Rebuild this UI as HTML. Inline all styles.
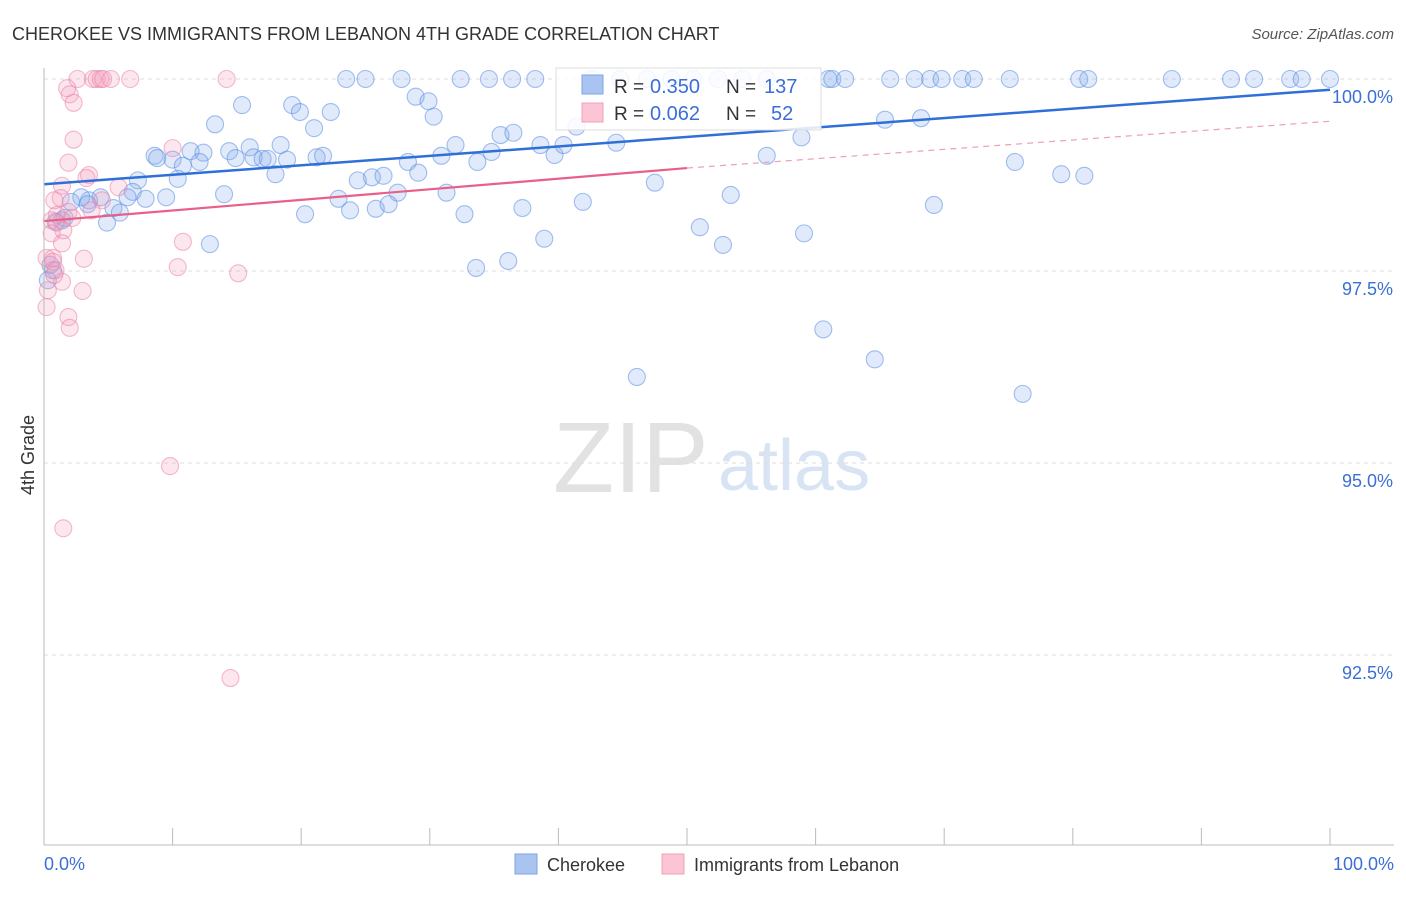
<!DOCTYPE html>
<html><head><meta charset="utf-8"><style>
body{margin:0;background:#fff;font-family:"Liberation Sans",sans-serif;}
svg text{font-family:"Liberation Sans",sans-serif;}
</style></head><body>
<svg id="chart" width="1406" height="892">
<text x="12" y="40" font-size="18" fill="#333">CHEROKEE VS IMMIGRANTS FROM LEBANON 4TH GRADE CORRELATION CHART</text>
<text x="1394" y="39" font-size="15" fill="#555" text-anchor="end" font-style="italic">Source: ZipAtlas.com</text>
<text x="34" y="455" font-size="18" fill="#333" text-anchor="middle" transform="rotate(-90 34 455)">4th Grade</text>
<text x="553" y="492" font-size="100" fill="#e2e2e2" font-family="Liberation Serif">ZIP</text>
<text x="718" y="490" font-size="72" fill="#d8e4f4">atlas</text>
<g id="grid"></g><g id="pts"></g><g id="lines"></g>
<line x1="44" y1="68" x2="44" y2="845" stroke="#bbb"/>
<line x1="44" y1="845" x2="1394" y2="845" stroke="#bbb"/>
<text x="44" y="870" font-size="18" fill="#3b6fd6">0.0%</text>
<text x="1394" y="870" font-size="18" fill="#3b6fd6" text-anchor="end">100.0%</text>
<g>
<rect x="556" y="68" width="265" height="62" fill="#fff" fill-opacity="0.85" stroke="#ddd"/>
<rect x="582" y="75" width="21" height="19" fill="#a9c4f0" stroke="#7fa3e6"/>
<rect x="582" y="103" width="21" height="19" fill="#fbc5d5" stroke="#f0a0b8"/>
<text x="614" y="93" font-size="19" fill="#333">R =</text>
<text x="650" y="93" font-size="20" fill="#3b6fd6">0.350</text>
<text x="726" y="93" font-size="19" fill="#333">N =</text>
<text x="764" y="93" font-size="20" fill="#3b6fd6">137</text>
<text x="614" y="120" font-size="19" fill="#333">R =</text>
<text x="650" y="120" font-size="20" fill="#3b6fd6">0.062</text>
<text x="726" y="120" font-size="19" fill="#333">N =</text>
<text x="771" y="120" font-size="20" fill="#3b6fd6">52</text>
</g>
<g>
<rect x="515" y="854" width="22" height="20" fill="#a9c4f0" stroke="#7fa3e6"/>
<text x="547" y="871" font-size="18" fill="#333">Cherokee</text>
<rect x="662" y="854" width="22" height="20" fill="#fbc5d5" stroke="#f0a0b8"/>
<text x="694" y="871" font-size="18" fill="#333">Immigrants from Lebanon</text>
</g>
</svg>
<script>
const yTicks=[100,97.5,95,92.5];
const yTickLabels=["100.0%","97.5%","95.0%","92.5%"];
const xTicks=[0,10,20,30,40,50,60,70,80,90,100];
const blueTopX=[23.5,25.0,27.8,32.4,34.6,36.4,38.2,42.6,44.8,46.9,48.8,50.5,52.4,54.3,56.2,61.0,61.3,62.3,65.8,67.7,68.9,69.8,71.4,72.3,75.1,80.5,81.2,87.7,92.3,94.1,96.9,97.8,100];
const blueX=[15.4,19.3,19.9,22.3,28.9,29.9,30.3,13.3,21.0,18.4,16.0,14.4,11.4,12.4,8.6,10.0,8.8,10.8,12.1,14.9,16.3,17.0,17.4,18.9,21.2,21.7,30.9,32.0,34.8,35.5,36.5,38.6,39.7,40.4,41.4,44.5,33.7,28.3,29.1,27.5,25.5,24.4,26.4,18.0,10.4,7.3,6.9,6.5,4.4,3.5,2.9,2.1,3.4,5.4,5.9,4.9,9.5,7.9,14.0,20.3,22.9,23.8,25.8,26.8,31.3,32.7,37.2,41.9,47.5,53.4,51.0,52.8,59.1,38.9,36.1,33.6,12.9,1.4,0.9,0.7,0.3,56.2,58.9,65.4,68.2,75.5,79.1,80.9,69.2,60.6,64.6,46.1,76.1,1.6,0.5];
const blueY=[99.66,99.66,99.57,99.57,99.77,99.71,99.51,99.41,99.36,99.14,99.11,99.06,99.06,99.04,99.00,98.95,98.97,98.87,98.92,98.97,98.98,98.96,98.96,98.95,98.98,99.00,99.00,99.14,99.05,99.27,99.30,99.14,99.01,99.14,99.38,99.17,98.92,98.92,98.78,98.52,98.72,98.68,98.74,98.76,98.70,98.68,98.53,98.46,98.46,98.42,98.46,98.40,98.37,98.32,98.26,98.13,98.46,98.44,98.50,98.24,98.44,98.29,98.31,98.37,98.52,98.24,98.32,98.40,98.65,98.49,98.07,97.84,97.99,97.92,97.63,97.54,97.85,98.16,98.14,97.51,97.38,99.00,99.24,99.47,99.49,98.92,98.76,98.74,98.36,96.74,96.35,96.12,95.90,98.19,97.58];
const pinkX=[2.6,3.8,4.1,4.4,4.6,5.2,6.7,14.2,1.8,2.0,2.3,2.3,1.9,3.5,3.3,5.8,1.4,1.3,1.0,0.6,1.0,1.9,2.2,1.5,0.6,1.4,0.7,0.2,0.7,0.9,1.4,3.1,0.8,0.3,3.0,1.9,2.0,0.2,10.8,10.4,15.1,10.0,9.8,1.5,14.5,4.5,3.7,0.8];
const pinkY=[100,100,100,100,100,100,100,100,99.88,99.80,99.69,99.21,98.91,98.75,98.71,98.59,98.61,98.45,98.23,98.16,98.13,98.27,98.19,98.03,97.99,97.86,97.67,97.67,97.62,97.51,97.36,97.66,97.45,97.25,97.24,96.90,96.76,97.03,97.88,97.55,97.47,99.10,94.96,94.15,92.20,98.42,98.29,98.42];
const blueTrend=[98.63,99.86];
const pinkTrend=[98.15,98.84,99.45];
const NS="http://www.w3.org/2000/svg";
function sx(v){return 44+v*12.86;}
function sy(v){return 79+(100-v)*76.8;}
function mk(tag,attrs,parent){const e=document.createElementNS(NS,tag);for(const k in attrs)e.setAttribute(k,attrs[k]);parent.appendChild(e);return e;}
const grid=document.getElementById('grid');
yTicks.forEach((t,i)=>{
 const l=mk('line',{x1:44,x2:1394,y1:sy(t),y2:sy(t),stroke:'#ddd','stroke-dasharray':'4,4'},grid);
 
 
 const tx=mk('text',{x:1393,y:sy(t)+24,'font-size':18,fill:'#3b6fd6','text-anchor':'end'},grid);
 tx.textContent=yTickLabels[i];
 
 
});
xTicks.forEach(t=>{
 const l=mk('line',{x1:sx(t),x2:sx(t),y1:828,y2:845,stroke:'#bbb'},grid);
 
 
});
const pts=document.getElementById('pts');
function dot(x,y,fill,stroke,name){
 const c=mk('circle',{cx:sx(x),cy:sy(y),r:8.5,fill:fill,stroke:stroke,'stroke-width':1.1},pts);
 
 
}
blueTopX.forEach(x=>dot(x,100,'rgba(130,170,235,0.25)','rgba(90,140,225,0.55)','cherokee-point'));
blueX.forEach((x,i)=>dot(x,blueY[i],'rgba(130,170,235,0.25)','rgba(90,140,225,0.55)','cherokee-point'));
pinkX.forEach((x,i)=>dot(x,pinkY[i],'rgba(245,160,190,0.25)','rgba(235,130,165,0.55)','lebanon-point'));
const lines=document.getElementById('lines');
let b=mk('line',{x1:sx(0),y1:sy(blueTrend[0]),x2:sx(100),y2:sy(blueTrend[1]),stroke:'#2f6fd8','stroke-width':2.5},lines);


let p=mk('line',{x1:sx(0),y1:sy(pinkTrend[0]),x2:sx(50),y2:sy(pinkTrend[1]),stroke:'#e8608a','stroke-width':2.2},lines);


let pd=mk('line',{x1:sx(50),y1:sy(pinkTrend[1]),x2:sx(100),y2:sy(pinkTrend[2]),stroke:'#eaa0b8','stroke-width':1.2,'stroke-dasharray':'6,5'},lines);


</script>
</body></html>
